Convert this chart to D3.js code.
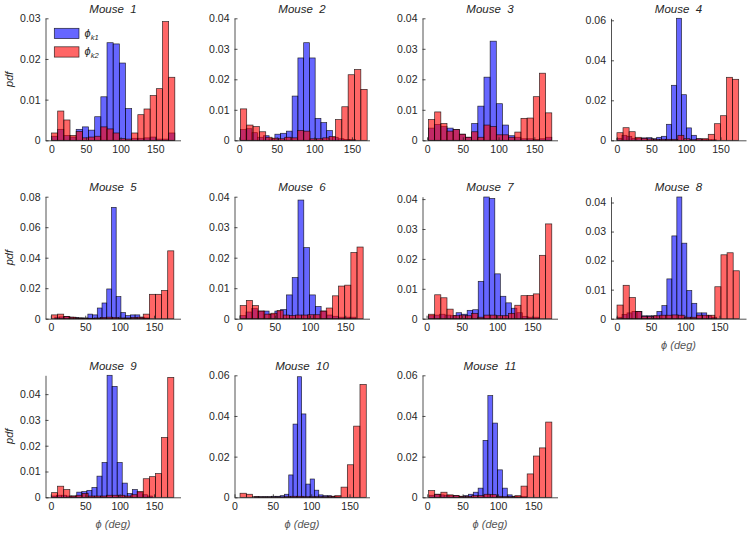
<!DOCTYPE html>
<html><head><meta charset="utf-8">
<script src="https://cdn.jsdelivr.net/npm/d3@7"></script>
<style>body{margin:0;background:#fff} text{font-family:"Liberation Sans",Arial,Helvetica,sans-serif}</style>
</head><body><svg id="c" width="750" height="537"></svg>
<script>
const titles = ["Mouse  1","Mouse  2","Mouse  3","Mouse  4","Mouse  5","Mouse  6","Mouse  7","Mouse  8","Mouse  9","Mouse  10","Mouse  11"];
const xTicks = [0, 50, 100, 150];
const xLimits = [[-8.4,186.5],[-6.3,173.4],[-6.4,182.4],[-8.6,186.9],[-7.7,188.4],[-7.1,184.4],[-5.8,185.5],[-8.5,188.8],[-7.7,188.4],[0,176],[-6.7,184.1]];
const yMax = [0.03,0.04,0.04,0.061,0.08,0.04,0.0408,0.042,0.0473,0.06,0.06];
const yTicks = [
  [0,0.01,0.02,0.03],[0,0.01,0.02,0.03,0.04],[0,0.01,0.02,0.03,0.04],[0,0.02,0.04,0.06],
  [0,0.02,0.04,0.06,0.08],[0,0.01,0.02,0.03,0.04],[0,0.01,0.02,0.03,0.04],[0,0.01,0.02,0.03,0.04],
  [0,0.01,0.02,0.03,0.04],[0,0.02,0.04,0.06],[0,0.02,0.04,0.06]];
// bin ranges (deg) of each histogram (20 bins each)
const k1Range = [[0.3,178.3],[1.5,154.7],[2.0,174.4],[0,143.8],[5.8,143],[0.95,165],[2.7,159.3],[0.3,146],[1,147.8],[26,137.8],[3.3,140.6]];
const k2Range = [[0.3,178.3],[1.5,170.3],[2.0,174.4],[0,176.3],[1,178.7],[0.95,175.4],[2.7,177.4],[0.3,179],[1,178.7],[7.2,171.8],[1.85,176.1]];
const k1Values = [
  [0.001,0.0027,0.0012,0.0008,0.0027,0.0033,0.0025,0.0058,0.0107,0.024,0.0237,0.019,0.0078,0.0005,0.0005,0.0006,0.0008,0.0003,0.0003,0.0018],
  [0.0035,0.0038,0.0025,0.001,0.0015,0.0005,0.002,0.0023,0.003,0.0145,0.027,0.032,0.027,0.0072,0.0058,0.0032,0.001,0.0005,0.0003,0.0003],
  [0.004,0.0052,0.0045,0.004,0.0035,0.002,0.001,0.0055,0.0112,0.0207,0.0325,0.012,0.005,0.0015,0.001,0.0005,0.0005,0.0003,0.0005,0.001],
  [0.001,0.0025,0.002,0.001,0.001,0.0012,0.0013,0.0008,0.0015,0.002,0.008,0.0275,0.061,0.0228,0.0062,0.0025,0.0008,0.0005,0.0003,0.0003],
  [0.001,0.0012,0.0015,0.001,0.0008,0.0005,0.0005,0.003,0.0025,0.007,0.0103,0.0195,0.073,0.0145,0.004,0.002,0.0025,0.0025,0.001,0.0005],
  [0.001,0.0022,0.0033,0.0025,0.0025,0.0015,0.0025,0.003,0.0078,0.0135,0.0389,0.0233,0.0078,0.004,0.0025,0.0012,0.0008,0.0005,0.0005,0.0005],
  [0.001,0.0012,0.0015,0.0012,0.001,0.002,0.0015,0.0028,0.003,0.0125,0.0407,0.0402,0.015,0.0075,0.0053,0.0035,0.002,0.0008,0.0005,0.0005],
  [0.0005,0.0015,0.002,0.0025,0.0025,0.001,0.001,0.001,0.0025,0.0045,0.0137,0.0285,0.0419,0.026,0.0097,0.0053,0.002,0.002,0.001,0.0005],
  [0.0005,0.0008,0.0008,0.0005,0.0005,0.002,0.0022,0.0027,0.0038,0.0082,0.0135,0.0473,0.043,0.0135,0.0055,0.0015,0.003,0.002,0.001,0.0005],
  [0.0003,0.0003,0.0003,0.0003,0.0005,0.0005,0.0008,0.0015,0.011,0.036,0.0593,0.041,0.0065,0.009,0.0035,0.0012,0.0008,0.0008,0.0005,0.0003],
  [0.001,0.0015,0.0012,0.001,0.0008,0.0008,0.0005,0.0008,0.0015,0.0025,0.0045,0.028,0.05,0.0365,0.0135,0.0045,0.0012,0.0005,0.0003,0.0003]];
const k2Values = [
  [0.0018,0.0072,0.005,0.0012,0.0022,0.0006,0.0008,0.001,0.0033,0.0028,0.0018,0.0004,0.0003,0.0018,0.0063,0.0077,0.011,0.0127,0.0292,0.0155],
  [0.0103,0.005,0.0045,0.0028,0.001,0.0007,0.0005,0.001,0.0008,0.0032,0.003,0.0005,0.0005,0.0008,0.0012,0.0068,0.011,0.0215,0.0232,0.0167],
  [0.0068,0.0093,0.0055,0.003,0.0035,0.002,0.001,0.0028,0.001,0.005,0.0045,0.0018,0.0018,0.001,0.0027,0.0072,0.0073,0.0143,0.022,0.009],
  [0.0038,0.0063,0.0043,0.0015,0.001,0.0007,0.0005,0.0005,0.0005,0.0005,0.0025,0.0008,0.0003,0.0007,0.0008,0.003,0.0083,0.0123,0.0315,0.0305],
  [0.0025,0.003,0.0015,0.001,0.0005,0.0003,0.0003,0.0005,0.0008,0.001,0.0008,0.0005,0.0005,0.0008,0.001,0.003,0.016,0.016,0.0185,0.0445],
  [0.0043,0.006,0.0043,0.0025,0.0015,0.0018,0.0027,0.0012,0.001,0.0012,0.0012,0.0013,0.0013,0.0025,0.0035,0.0075,0.0107,0.011,0.0217,0.0235],
  [0.0015,0.008,0.007,0.0032,0.001,0.0012,0.001,0.0018,0.0005,0.0012,0.0012,0.001,0.001,0.0018,0.0045,0.0077,0.0078,0.0083,0.0212,0.0317],
  [0.0047,0.0115,0.0073,0.0025,0.0008,0.0008,0.001,0.0012,0.0012,0.0013,0.0012,0.0005,0.0005,0.0012,0.0012,0.0012,0.011,0.022,0.0227,0.0165],
  [0.0018,0.0043,0.003,0.0005,0.0008,0.0015,0.0005,0.0005,0.0005,0.0008,0.0008,0.0008,0.0005,0.001,0.0022,0.0072,0.008,0.0092,0.0232,0.0465],
  [0.002,0.0015,0.0003,0.0002,0.0002,0.0002,0.0002,0.0003,0.0005,0.0005,0.0003,0.0003,0.0003,0.0003,0.0005,0.0008,0.005,0.016,0.035,0.0555],
  [0.0033,0.0015,0.0025,0.0012,0.0008,0.0005,0.0005,0.0008,0.0008,0.0015,0.0013,0.0005,0.0003,0.0003,0.0008,0.0055,0.0115,0.0203,0.0243,0.037]];
const seriesNames = ["k1","k2"];

const svg = d3.select("#c");
svg.append("rect").attr("width",750).attr("height",537).attr("fill","#fff");
const colLeft = [45.5,234.5,422.5,611], rowTop = [18.3,196.7,375.3], W = 135, H = 122;
const ink = "#262626";
const colors = ["#0000ff","#ff0000"];

titles.forEach((t,p) => {
  const col = p % 4, row = Math.floor(p / 4);
  const g = svg.append("g").attr("transform", `translate(${colLeft[col]},${rowTop[row]})`);
  const x = d3.scaleLinear().domain(xLimits[p]).range([0, W]);
  const y = d3.scaleLinear().domain([0, yMax[p]]).range([H, 0]);
  [[k1Range[p], k1Values[p], colors[0]], [k2Range[p], k2Values[p], colors[1]]].forEach(([r, vals, c]) => {
    const n = vals.length, w = (r[1] - r[0]) / n;
    g.append("g").selectAll("rect").data(vals).join("rect")
      .attr("x", (d,i) => x(r[0] + i*w))
      .attr("width", (d,i) => x(r[0] + (i+1)*w) - x(r[0] + i*w))
      .attr("y", d => y(d)).attr("height", d => H - y(d))
      .attr("fill", c).attr("fill-opacity", 0.6)
      .attr("stroke", "#000").attr("stroke-opacity", 0.8).attr("stroke-width", 0.7);
  });
  const ax = g.append("g").attr("transform", `translate(0,${H})`)
    .call(d3.axisBottom(x).tickValues(xTicks).tickSizeInner(-3).tickSizeOuter(0).tickPadding(5).tickFormat(d3.format("d")));
  const ay = g.append("g")
    .call(d3.axisLeft(y).tickValues(yTicks[p]).tickSizeInner(-3).tickSizeOuter(0).tickPadding(5)
      .tickFormat(d => d === 0 ? "0" : d3.format(".2f")(d)));
  [ax, ay].forEach(a => {
    a.select(".domain").attr("stroke", ink).attr("stroke-width", 0.8);
    a.selectAll(".tick line").attr("stroke", ink).attr("stroke-width", 0.8);
    a.selectAll(".tick text").attr("fill", ink).attr("font-size", 10.5).attr("font-family", '"Liberation Sans",Arial,sans-serif');
  });
  g.append("text").attr("x", W/2).attr("y", -5.5).attr("text-anchor", "middle")
    .attr("font-size", 11.5).attr("font-style", "italic").attr("fill", ink)
    .style("white-space", "pre").text(t);
  if (col === 0) {
    g.append("text").attr("transform", `translate(${13 - colLeft[0]},${H/2}) rotate(-90)`)
      .attr("text-anchor", "middle").attr("font-size", 11).attr("font-style", "italic").attr("fill", ink).text("pdf");
  }
  if (row === 2 || p === 7) {
    g.append("text").attr("x", W/2).attr("y", H + 30.5).attr("text-anchor", "middle")
      .attr("font-size", 11).attr("font-style", "italic").attr("fill", "#555").text("ϕ (deg)");
  }
  if (p === 0) {
    const lg = g.append("g");
    seriesNames.forEach((s, i) => {
      lg.append("rect").attr("x", 8.8).attr("y", 10 + i*18.5).attr("width", 24.7).attr("height", 10.3)
        .attr("fill", colors[i]).attr("fill-opacity", 0.6).attr("stroke", "#000").attr("stroke-opacity", 0.8).attr("stroke-width", 0.7);
      const tx = lg.append("text").attr("x", 39).attr("y", 18.5 + i*18.5).attr("font-size", 11).attr("fill", ink);
      tx.append("tspan").attr("font-style", "italic").text("ϕ");
      tx.append("tspan").attr("font-size", 7.5).attr("dy", 3).attr("font-style", "italic").text(s);
    });
  }
});
</script></body></html>
